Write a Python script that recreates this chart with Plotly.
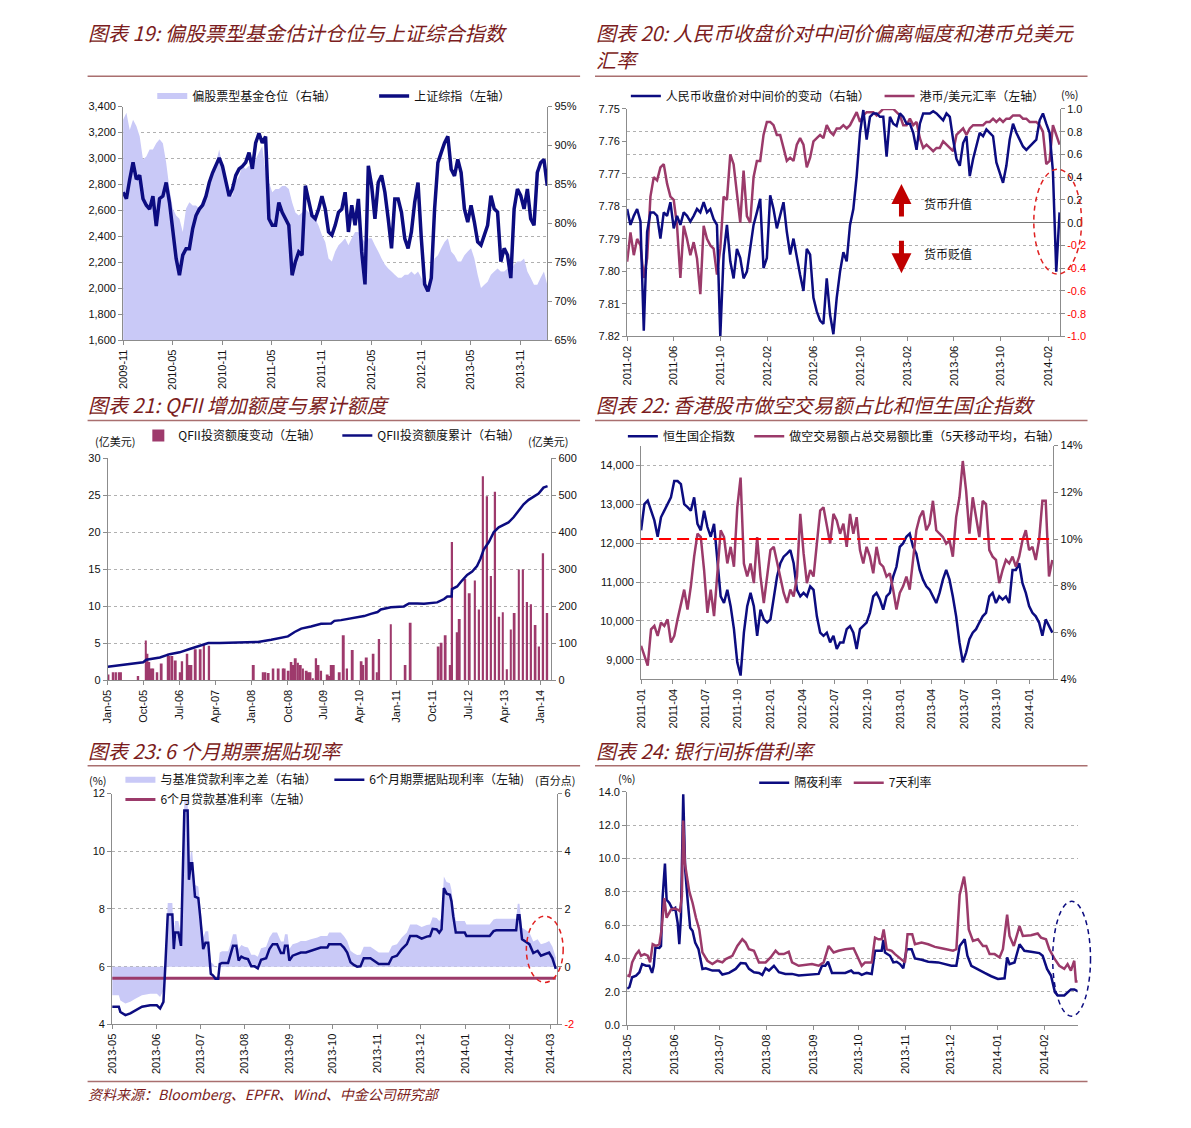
import pandas as pd
import plotly.graph_objects as go

W, H = 1191, 1128


def px(x):
    return x / W


def py(y):
    return 1 - y / H


NAVY = "#0C0C80"
PLUM = "#9B3A6A"
LAV = "#C9C9F7"
TITLE_C = "#7B1C20"
RULE_C = "#A96F6F"
GRID_C = "#B0B0B0"
AX_C = "#8C8C8C"
FONT = "Liberation Sans, Arial, sans-serif"
CJK = "Noto Sans CJK SC, sans-serif"

# ---------------- Panel 19 data ----------------
P19_START, P19_END = "2009-11-01", "2014-02-07"
P19_SSE = [2740, 2690, 2840, 2970, 2840, 2870, 2690, 2640, 2610, 2710,
           2480, 2690, 2710, 2815, 2660, 2430, 2230, 2100, 2255, 2305,
           2305, 2460, 2560, 2610, 2640, 2710, 2815, 2890, 2955, 3005,
           2940, 2815, 2710, 2765, 2870, 2920, 2940, 2970, 3045, 2920,
           3120, 3195, 3120, 3170, 2535, 2485, 2485, 2660, 2585, 2535,
           2485, 2100, 2205, 2280, 2255, 2790, 2660, 2560, 2535, 2610,
           2710, 2610, 2434, 2410, 2485, 2585, 2610, 2740, 2434, 2640,
           2485, 2688, 2280, 2030, 2943, 2790, 2535, 2815, 2870, 2740,
           2535, 2307, 2688, 2688, 2585, 2383, 2307, 2434, 2663, 2815,
           2383, 2030, 1977, 2078, 2612, 2968, 3045, 3120, 3171, 2917,
           2866, 2993, 2892, 2612, 2510, 2638, 2510, 2358, 2333, 2409,
           2485, 2714, 2612, 2587, 2205, 2307, 2256, 2078, 2612, 2765,
           2714, 2612, 2765, 2536, 2485, 2892, 2968, 2993, 2790]
P19_FUND = [93.3, 94.2, 92.0, 93.3, 92.5, 91.2, 88.2, 88.6, 89.5, 89.5,
            90.3, 90.8, 90.3, 87.8, 84.4, 81.9, 81.0, 80.6, 78.9, 81.9,
            82.7, 82.3, 82.3, 81.9, 83.1, 83.6, 85.3, 87.0, 87.8, 89.5,
            87.4, 85.7, 83.6, 83.6, 85.3, 86.1, 87.4, 87.0, 87.4, 87.4,
            88.2, 89.1, 89.9, 86.5, 85.3, 84.0, 84.4, 84.4, 84.8, 84.8,
            84.4, 82.7, 81.4, 81.0, 81.4, 81.9, 81.4, 81.0, 80.6, 79.7,
            78.5, 77.6, 75.5, 75.1, 76.4, 77.2, 77.6, 78.1, 77.2, 78.1,
            78.9, 78.9, 78.1, 77.6, 78.1, 78.1, 77.2, 76.4, 75.5, 74.7,
            74.2, 73.8, 73.4, 73.0, 73.0, 73.4, 73.4, 73.8, 73.4, 73.8,
            73.0, 72.1, 71.3, 73.0, 75.5, 75.9, 76.8, 77.6, 78.1, 76.4,
            75.9, 75.1, 75.1, 75.9, 76.4, 76.8, 75.5, 73.4, 71.7, 72.1,
            72.5, 73.4, 73.8, 74.2, 73.8, 73.8, 74.2, 73.8, 74.7, 75.1,
            75.1, 75.5, 73.8, 73.0, 72.1, 72.1, 73.0, 73.8, 72.1]

# ---------------- Panel 20 data ----------------
P20_START, P20_END = "2011-02-01", "2014-03-03"
P20_RMB = [0.12, -0.02, 0.06, 0.12, 0.01, -0.95, -0.08, 0.09, 0.09, 0.06,
           -0.14, 0.09, 0.06, 0.18, -0.05, 0.06, -0.02, 0.09, 0.06, 0.01,
           0.06, 0.12, 0.09, 0.18, 0.09, 0.12, 0.03, -0.02, -1.0, -0.28,
           -0.02, -0.34, -0.49, -0.23, -0.31, -0.49, -0.43, -0.23, -0.02, 0.09,
           0.21, -0.40, -0.31, 0.24, 0.12, -0.05, 0.06, 0.18, -0.08, -0.28,
           -0.14, -0.31, -0.46, -0.60, -0.23, -0.28, -0.66, -0.78, -0.86, -0.89,
           -0.49, -0.81, -0.98, -0.66, -0.43, -0.26, -0.34, -0.02, 0.12, 0.41,
           0.79, 0.99, 0.73, 0.93, 0.96, 0.96, 0.93, 0.93, 0.58, 0.93,
           0.87, 0.85, 0.96, 0.93, 0.87, 0.87, 0.79, 0.64, 0.87, 0.96,
           0.96, 0.96, 0.98, 0.96, 0.93, 0.90, 0.96, 0.93, 0.73, 0.56,
           0.50, 0.70, 0.76, 0.41, 0.56, 0.67, 0.79, 0.76, 0.82, 0.79,
           0.76, 0.53, 0.44, 0.35, 0.50, 0.73, 0.87, 0.79, 0.73, 0.67,
           0.64, 0.67, 0.70, 0.73, 0.90, 0.96, 0.87, 0.79, 0.45, -0.43, 0.09]
P20_HKD = [7.797, 7.788, 7.795, 7.790, 7.792, 7.802, 7.796, 7.777, 7.771, 7.772,
           7.768, 7.767, 7.773, 7.777, 7.778, 7.786, 7.802, 7.786, 7.790, 7.795,
           7.791, 7.796, 7.807, 7.786, 7.790, 7.792, 7.793, 7.801, 7.793, 7.777,
           7.778, 7.764, 7.767, 7.776, 7.785, 7.769, 7.783, 7.785, 7.771, 7.766,
           7.766, 7.758, 7.754, 7.754, 7.755, 7.758, 7.758, 7.762, 7.766, 7.765,
           7.766, 7.761, 7.759, 7.761, 7.768, 7.765, 7.760, 7.759, 7.758, 7.759,
           7.755, 7.757, 7.758, 7.756, 7.756, 7.755, 7.756, 7.755, 7.753, 7.751,
           7.754, 7.752, 7.751, 7.751, 7.751, 7.752, 7.751, 7.750, 7.750, 7.750,
           7.750, 7.751, 7.752, 7.755, 7.755, 7.753, 7.755, 7.754, 7.759, 7.762,
           7.761, 7.762, 7.763, 7.762, 7.762, 7.760, 7.761, 7.762, 7.763, 7.758,
           7.757, 7.756, 7.758, 7.756, 7.755, 7.755, 7.755, 7.755, 7.754, 7.754,
           7.753, 7.754, 7.753, 7.754, 7.753, 7.753, 7.752, 7.752, 7.752, 7.753,
           7.753, 7.754, 7.754, 7.754, 7.755, 7.757, 7.767, 7.766, 7.755, 7.758, 7.761]
P20_RIGHT_TICKS = [1.0, 0.8, 0.6, 0.4, 0.2, 0.0, -0.2, -0.4, -0.6, -0.8, -1.0]

# ---------------- Panel 21 data ----------------
P21_BAR_DATES = ["2005-01-06", "2005-02-13", "2005-03-04", "2005-03-29", "2005-04-11",
                 "2005-08-20", "2005-10-17", "2005-10-29", "2005-11-12", "2005-11-29",
                 "2005-12-12", "2006-01-12", "2006-02-14", "2006-04-03", "2006-04-16",
                 "2006-05-06", "2006-06-01", "2006-07-05", "2006-07-20", "2006-08-28",
                 "2006-09-10", "2006-09-28", "2006-10-31", "2006-12-07", "2007-01-02",
                 "2007-02-10", "2008-01-15", "2008-03-25", "2008-04-12", "2008-05-07",
                 "2008-06-12", "2008-07-22", "2008-08-24", "2008-09-06", "2008-10-06",
                 "2008-10-27", "2008-11-13", "2008-11-29", "2008-12-16", "2009-01-06",
                 "2009-01-23", "2009-02-20", "2009-03-06", "2009-03-21", "2009-04-08",
                 "2009-05-03", "2009-05-21", "2009-06-10", "2009-07-30", "2009-08-12",
                 "2009-08-30", "2009-09-14", "2009-10-29", "2009-11-29", "2009-12-24",
                 "2010-02-05", "2010-04-13", "2010-04-26", "2010-05-23", "2010-07-13",
                 "2010-08-08", "2010-08-25", "2010-11-22", "2011-03-13", "2011-04-21",
                 "2011-11-20", "2011-12-12", "2012-01-12", "2012-02-19", "2012-03-01",
                 "2012-04-09", "2012-04-28", "2012-06-09", "2012-07-13", "2012-08-22",
                 "2012-09-22", "2012-10-22", "2012-11-22", "2012-12-22", "2013-01-22",
                 "2013-02-22", "2013-03-22", "2013-04-22", "2013-05-22", "2013-06-19",
                 "2013-07-22", "2013-08-22", "2013-09-22", "2013-10-22", "2013-11-25",
                 "2013-12-22", "2014-01-22", "2014-02-22"]
P21_BAR_VALS = [0.8, 1.1, 1.1, 1.1, 1.1,
                0.6, 5.4, 3.6, 2.5, 1.6,
                1.6, 1.1, 2.3, 3.6, 3.3,
                3.3, 2.7, 1.1, 2.6, 3.6,
                2.1, 2.1, 4.2, 4.2, 4.9,
                4.7, 2.1, 1.1, 1.1, 1.0,
                1.6, 1.6, 1.6, 1.6, 1.3,
                2.5, 2.1, 3.0, 2.4, 2.1,
                1.6, 1.3, 1.1, 1.1, 0.3,
                3.0, 2.1, 1.3, 0.8, 0.6,
                2.1, 2.1, 1.1, 6.1, 1.6,
                4.1, 2.6, 2.1, 3.1, 3.6,
                1.1, 5.6, 7.6, 2.1, 7.8,
                4.6, 5.1, 6.1, 2.1, 18.7,
                6.5, 8.3, 13.7, 11.8, 13.5,
                9.6, 27.6, 24.9, 14.1, 25.5,
                8.6, 9.2, 1.5, 6.9, 9.1,
                15.0, 15.0, 10.6, 10.3, 7.5,
                4.6, 17.2, 9.1]
P21_CUM_DATES = ["2005-01-01", "2005-03-08", "2005-09-27", "2005-10-21", "2005-11-16",
                 "2006-02-01", "2006-04-16", "2006-07-01", "2006-09-15", "2006-12-02",
                 "2007-02-04", "2007-05-01", "2007-11-09", "2008-02-16", "2008-05-27",
                 "2008-08-12", "2008-10-01", "2008-11-21", "2009-01-10", "2009-03-25",
                 "2009-06-10", "2009-08-25", "2009-09-19", "2009-11-09", "2009-12-29",
                 "2010-03-13", "2010-05-03", "2010-06-23", "2010-08-13", "2010-09-07",
                 "2010-11-22", "2011-03-01", "2011-04-09", "2011-06-11", "2011-08-01",
                 "2011-11-09", "2012-01-01", "2012-01-25", "2012-02-27", "2012-03-01",
                 "2012-04-09", "2012-05-16", "2012-06-24", "2012-08-01", "2012-09-07",
                 "2012-10-03", "2012-10-28", "2012-12-06", "2013-01-13", "2013-02-19",
                 "2013-03-28", "2013-05-04", "2013-06-12", "2013-07-19", "2013-08-27",
                 "2013-10-04", "2013-11-10", "2013-12-19", "2014-01-25", "2014-02-25"]
P21_CUM_VALS = [37, 40, 49, 56, 58,
                62, 71, 76, 85, 94,
                101, 101, 103, 104, 110,
                115, 119, 131, 140, 146,
                153, 154, 161, 163, 166,
                172, 174, 180, 185, 192,
                198, 200, 208, 208, 207,
                211, 220, 227, 227, 247,
                254, 270, 285, 294, 309,
                329, 354, 374, 401, 414,
                420, 427, 441, 459, 476,
                488, 497, 505, 521, 525]

# ---------------- Panel 22 data ----------------
P22_START, P22_END = "2011-01-01", "2014-03-07"
P22_HSCEI = [12325, 13000, 13090, 12830, 12580, 12160, 12660, 12830, 13000, 13170,
             13590, 13590, 13510, 13000, 12920, 12830, 13170, 12490, 12325, 12830,
             12410, 12160, 12490, 11650, 10630, 10460, 10800, 10380, 9790, 8940,
             8600, 9700, 10380, 10720, 10380, 9620, 10290, 10040, 9960, 10040,
             10630, 11140, 11480, 11650, 11730, 11820, 11480, 10800, 10630, 10720,
             10630, 10890, 10800, 10120, 9700, 9620, 9700, 9450, 9620, 9280,
             9450, 9450, 9790, 9870, 9700, 9280, 9790, 9870, 9960, 10210,
             10630, 10720, 10550, 10290, 10630, 10720, 11140, 11390, 11900, 11990,
             12160, 12240, 11900, 11730, 11310, 11060, 10890, 10800, 10630, 10460,
             10720, 11060, 11310, 11060, 10630, 10120, 9450, 8940, 9190, 9530,
             9700, 9790, 9960, 10120, 10210, 10630, 10720, 10460, 10630, 10550,
             10630, 10460, 11310, 11310, 11480, 10970, 10720, 10380, 10210, 10120,
             9960, 9620, 10040, 9870, 9700]
P22_SHORT = [5.44, 5.02, 4.59, 6.14, 6.29, 5.86, 6.43, 6.29, 6.57, 5.58,
             5.86, 6.57, 7.27, 7.84, 6.99, 7.98, 9.25, 10.23, 10.09, 8.68,
             6.85, 7.84, 6.71, 8.40, 10.38, 10.09, 8.96, 9.67, 8.82, 11.36,
             12.63, 8.96, 8.40, 8.96, 8.12, 10.09, 8.40, 7.27, 8.40, 9.53,
             9.67, 8.96, 8.40, 7.70, 7.27, 7.84, 7.55, 8.40, 11.08, 9.39,
             8.12, 8.68, 8.40, 9.95, 11.22, 11.36, 10.66, 9.81, 11.08, 10.80,
             10.23, 10.66, 9.67, 11.08, 10.23, 10.94, 9.53, 8.96, 9.67, 9.25,
             8.54, 9.67, 8.96, 8.82, 8.40, 8.54, 7.84, 6.99, 7.70, 7.98,
             8.40, 7.84, 9.11, 10.38, 10.94, 11.22, 10.38, 10.66, 11.64, 10.38,
             10.23, 10.09, 9.81, 9.95, 9.25, 10.94, 11.79, 13.34, 12.07, 10.23,
             11.79, 10.94, 10.09, 11.64, 11.50, 9.53, 9.25, 9.11, 8.12, 8.68,
             9.11, 8.96, 9.25, 8.82, 9.25, 9.95, 10.38, 9.53, 9.67, 9.11,
             9.95, 11.64, 11.64, 8.40, 9.11]
P22_REF_LEVEL = 10

# ---------------- Panel 23 data ----------------
P23_BASE = "2013-05-01"
P23_DAYS = [0, 4.6, 5.7, 9.2, 12.6, 16.1, 20.7, 26.4, 31.0, 33.3,
            35.6, 36.8, 38.6, 41.8, 42.8, 43.7, 46.0, 47.8, 49.0, 50.1,
            52.4, 53.3, 54.7, 55.6, 57.5, 59.8, 61.1, 63.2, 64.8, 66.7,
            68.5, 70.1, 71.7, 73.6, 74.7, 76.3, 80.5, 82.1, 83.9, 86.2,
            87.8, 89.7, 92.0, 94.3, 96.6, 98.9, 101.1, 103.4, 106.9, 109.2,
            111.5, 114.5, 117.2, 119.1, 120.0, 121.8, 123.0, 125.3, 128.7, 131.0,
            134.5, 137.9, 142.5, 144.8, 149.4, 150.6, 158.6, 160.9, 163.2, 165.5,
            167.8, 170.1, 172.4, 174.7, 179.3, 181.6, 185.1, 192.0, 194.3, 197.7,
            201.1, 204.6, 206.9, 211.5, 214.9, 218.4, 220.7, 222.5, 225.3, 227.1,
            228.7, 230.3, 232.2, 234.5, 235.6, 236.8, 238.6, 244.8, 246.0, 262.1,
            264.8, 266.7, 280.5, 281.6, 282.8, 284.6, 287.4, 289.7, 292.4, 295.4,
            297.7, 301.1, 303.4, 305.7, 308.0]
P23_RATE = [4.61, 4.61, 4.43, 4.32, 4.38, 4.49, 4.61, 4.66, 4.66, 4.55,
            4.78, 5.92, 7.81, 7.81, 6.61, 7.18, 7.18, 6.72, 8.89, 11.41,
            11.41, 9.01, 9.58, 9.58, 8.43, 8.38, 7.75, 6.61, 6.83, 6.83,
            5.75, 5.69, 5.58, 5.58, 6.09, 6.13, 6.13, 6.38, 6.72, 6.72,
            6.21, 6.35, 6.29, 6.26, 6.01, 6.01, 5.94, 6.24, 6.29, 6.61,
            6.78, 6.78, 6.47, 6.47, 6.72, 6.72, 6.21, 6.38, 6.43, 6.49,
            6.49, 6.55, 6.61, 6.66, 6.66, 6.78, 6.78, 6.66, 6.49, 6.15,
            6.06, 6.00, 6.01, 6.29, 6.29, 6.21, 6.09, 6.09, 6.32, 6.38,
            6.61, 6.78, 7.06, 7.06, 6.97, 7.04, 7.06, 7.31, 7.29, 7.18,
            7.29, 8.72, 8.53, 8.49, 8.26, 7.75, 7.18, 7.18, 7.06, 7.06,
            7.23, 7.26, 7.26, 7.78, 7.78, 6.95, 6.86, 6.78, 6.47, 6.55,
            6.38, 6.43, 6.49, 6.29, 5.92]
P23_BENCH = 5.6

# ---------------- Panel 24 data ----------------
P24_BASE = "2013-05-01"
P24_ON_DAYS = [0, 1.5, 3.3, 5.9, 8.1, 9.9, 12.5, 14.7, 16.5, 17.6,
               18.7, 21.3, 22.4, 23.5, 25.0, 26.1, 27.9, 30.1, 31.8, 33.4,
               34.5, 35.6, 37.1, 38.4, 40.0, 41.7, 43.3, 45.0, 47.2, 49.8,
               52.0, 56.4, 60.8, 63.0, 67.4, 71.8, 75.1, 78.4, 80.6, 83.9,
               87.2, 89.4, 91.6, 93.8, 97.1, 100.4, 104.7, 109.1, 113.5, 117.9,
               122.3, 126.7, 128.9, 131.1, 132.9, 135.5, 139.9, 144.3, 148.2, 149.8,
               153.1, 155.2, 158.5, 161.8, 164.0, 168.4, 169.5, 170.6, 173.9, 176.1,
               178.3, 180.5, 182.7, 184.9, 188.2, 190.4, 194.8, 199.2, 205.8, 210.1,
               214.5, 217.8, 220.0, 223.3, 225.1, 227.7, 232.1, 236.5, 240.9, 245.3,
               249.7, 251.4, 253.0, 256.3, 259.6, 262.8, 267.2, 272.7, 274.9, 277.8,
               280.4, 283.0, 284.8, 289.2, 293.6, 295.8, 298.4]
P24_ON = [2.18, 2.28, 2.87, 2.97, 3.17, 3.66, 3.56, 3.56, 3.13, 3.56,
          4.65, 4.63, 4.75, 7.72, 9.70, 7.52, 7.33, 6.93, 7.03, 6.14,
          4.85, 6.53, 13.86, 9.31, 7.52, 5.84, 5.64, 4.95, 4.55, 3.37,
          3.41, 3.27, 3.27, 3.03, 3.13, 3.37, 3.72, 3.70, 3.37, 3.17,
          3.13, 3.01, 3.41, 3.27, 3.56, 3.17, 3.07, 3.07, 2.97, 3.01,
          3.01, 3.07, 3.56, 3.56, 3.80, 3.13, 3.13, 3.13, 3.27, 3.13,
          3.13, 3.01, 3.13, 3.07, 4.46, 4.46, 5.11, 4.36, 4.16, 3.76,
          3.80, 3.66, 3.41, 4.55, 4.55, 4.00, 3.92, 3.80, 3.76, 3.66,
          3.56, 3.56, 4.75, 5.15, 4.16, 3.56, 3.33, 3.13, 2.93, 2.77,
          2.81, 4.06, 3.66, 3.76, 4.85, 4.46, 4.40, 4.32, 4.16, 3.37,
          2.97, 1.98, 1.78, 1.78, 2.14, 2.14, 2.02]
P24_7D_DAYS = [0, 1.5, 3.3, 5.9, 7.7, 9.2, 11.4, 13.6, 15.2, 16.9,
               19.1, 21.3, 22.8, 24.6, 26.1, 29.0, 31.2, 33.4, 34.9, 36.2,
               37.1, 38.2, 41.1, 43.3, 45.5, 47.7, 49.8, 53.1, 56.4, 59.7,
               63.0, 65.2, 69.6, 72.9, 76.2, 78.4, 80.6, 83.9, 87.2, 91.6,
               94.9, 98.2, 100.4, 103.6, 106.9, 109.1, 113.5, 117.9, 122.3, 126.7,
               130.0, 133.3, 136.6, 139.9, 144.3, 149.8, 152.0, 155.2, 157.4, 161.8,
               164.0, 166.2, 168.4, 169.7, 171.7, 175.0, 177.2, 180.5, 183.8, 185.5,
               188.6, 190.4, 194.8, 199.2, 203.6, 208.0, 212.3, 215.6, 217.8, 220.0,
               222.9, 224.4, 226.0, 228.8, 232.1, 235.4, 237.6, 239.8, 243.1, 246.4,
               248.6, 251.4, 253.0, 255.8, 259.6, 261.8, 267.2, 271.6, 273.8, 277.1,
               279.3, 282.6, 285.9, 289.2, 291.4, 293.6, 295.8, 296.9, 298.4]
P24_7D = [2.97, 2.93, 3.76, 4.26, 4.46, 4.16, 4.26, 4.16, 3.76, 4.85,
          4.75, 4.85, 5.74, 7.62, 6.44, 6.93, 6.99, 6.93, 6.83, 7.72,
          12.28, 9.70, 8.02, 7.33, 6.44, 5.74, 4.36, 3.86, 3.66, 3.86,
          3.76, 3.96, 4.16, 4.75, 5.15, 4.95, 4.55, 4.46, 3.76, 3.76,
          4.06, 4.46, 4.26, 4.26, 4.40, 3.76, 3.56, 3.60, 3.66, 3.56,
          3.76, 4.75, 4.36, 4.46, 4.55, 4.61, 4.16, 3.56, 3.76, 3.76,
          5.25, 5.15, 5.15, 5.74, 4.55, 4.46, 4.26, 4.00, 3.76, 5.45,
          5.45, 4.85, 4.95, 4.85, 4.69, 4.61, 4.55, 4.46, 4.55, 7.82,
          8.91, 7.92, 5.74, 5.05, 5.15, 4.75, 4.75, 4.26, 4.26, 4.06,
          4.55, 6.63, 5.35, 4.75, 5.94, 5.35, 5.39, 5.50, 5.25, 5.15,
          4.55, 4.00, 3.56, 3.37, 3.66, 3.27, 3.86, 2.61, 2.61]


def days_to_dates(base, days):
    return pd.Timestamp(base) + pd.to_timedelta(days, unit="D")


def red_neg(v, fmt):
    s = fmt.format(v)
    return f'<span style="color:#FF0000">{s}</span>' if v < 0 else s


TICKFONT = dict(family=FONT, size=11, color="#111111")


def xdate(dom, anchor, rng, dtick, tick0, fmt):
    return dict(domain=dom, anchor=anchor, type="date", range=rng, dtick=dtick,
                tick0=tick0, tickformat=fmt, tickangle=-90, showline=True,
                linecolor=AX_C, linewidth=1, ticks="outside", ticklen=4,
                tickcolor=AX_C, showgrid=False, zeroline=False, tickfont=TICKFONT,
                fixedrange=True)


def yax(dom=None, anchor=None, side="left", rng=None, grid=False, overlaying=None, **kw):
    d = dict(side=side, range=rng, showline=True, linecolor=AX_C, linewidth=1,
             ticks="outside", ticklen=4, tickcolor=AX_C, showgrid=grid,
             gridcolor=GRID_C, griddash="dot", gridwidth=1, zeroline=False,
             tickfont=TICKFONT, fixedrange=True)
    if dom is not None:
        d["domain"] = dom
    if anchor is not None:
        d["anchor"] = anchor
    if overlaying is not None:
        d["overlaying"] = overlaying
    d.update(kw)
    return d


def leg(text_x, cy):
    return dict(x=px(text_x - 40), y=py(cy), xanchor="left", yanchor="middle",
                orientation="h", bgcolor="rgba(0,0,0,0)", borderwidth=0,
                font=dict(family=CJK, size=12, color="#111111"), itemwidth=30)


fig = go.Figure()

# ---- Panel 19 ----
d19 = pd.date_range(P19_START, P19_END, periods=len(P19_SSE))
d19f = pd.date_range(P19_START, P19_END, periods=len(P19_FUND))
fig.add_trace(go.Scatter(x=d19f, y=P19_FUND, xaxis="x", yaxis="y", mode="none",
                         fill="tozeroy", fillcolor=LAV, name="偏股票型基金仓位（右轴）",
                         legend="legend"))
fig.add_trace(go.Scatter(x=d19, y=P19_SSE, xaxis="x", yaxis="y2", mode="lines",
                         line=dict(color=NAVY, width=3.5), name="上证综指（左轴）",
                         legend="legend2"))

# ---- Panel 20 ----
d20 = pd.date_range(P20_START, P20_END, periods=len(P20_RMB))
d20h = pd.date_range(P20_START, P20_END, periods=len(P20_HKD))
fig.add_trace(go.Scatter(x=d20, y=P20_RMB, xaxis="x2", yaxis="y4", mode="lines",
                         line=dict(color=NAVY, width=2.5), name="人民币收盘价对中间价的变动（右轴）",
                         legend="legend3"))
fig.add_trace(go.Scatter(x=d20h, y=P20_HKD, xaxis="x2", yaxis="y3", mode="lines",
                         line=dict(color=PLUM, width=2.5), name="港币/美元汇率（左轴）",
                         legend="legend4"))

# ---- Panel 21 ----
fig.add_trace(go.Bar(x=pd.to_datetime(P21_BAR_DATES), y=P21_BAR_VALS, xaxis="x3", yaxis="y5",
                     marker=dict(color="#9E3A6C", line=dict(width=0)),
                     width=15 * 86400000, name="QFII投资额度变动（左轴）", legend="legend5"))
fig.add_trace(go.Scatter(x=pd.to_datetime(P21_CUM_DATES), y=P21_CUM_VALS, xaxis="x3", yaxis="y6",
                         mode="lines", line=dict(color=NAVY, width=2.5),
                         name="QFII投资额度累计（右轴）", legend="legend6"))

# ---- Panel 22 ----
d22 = pd.date_range(P22_START, P22_END, periods=len(P22_HSCEI))
d22s = pd.date_range(P22_START, P22_END, periods=len(P22_SHORT))
fig.add_trace(go.Scatter(x=d22, y=P22_HSCEI, xaxis="x4", yaxis="y7", mode="lines",
                         line=dict(color=NAVY, width=2.5), name="恒生国企指数", legend="legend7"))
fig.add_trace(go.Scatter(x=d22s, y=P22_SHORT, xaxis="x4", yaxis="y8", mode="lines",
                         line=dict(color=PLUM, width=2.5),
                         name="做空交易额占总交易额比重（5天移动平均，右轴）", legend="legend8"))

# ---- Panel 23 ----
d23 = days_to_dates(P23_BASE, P23_DAYS)
diff23 = [r - P23_BENCH for r in P23_RATE]
fig.add_trace(go.Scatter(x=d23, y=diff23, xaxis="x5", yaxis="y9", mode="none",
                         fill="tozeroy", fillcolor=LAV, name="与基准贷款利率之差（右轴）",
                         legend="legend9"))
fig.add_trace(go.Scatter(x=d23, y=[P23_BENCH] * len(P23_DAYS), xaxis="x5", yaxis="y10",
                         mode="lines", line=dict(color=PLUM, width=3),
                         name="6个月贷款基准利率（左轴）", legend="legend11"))
fig.add_trace(go.Scatter(x=d23, y=P23_RATE, xaxis="x5", yaxis="y10", mode="lines",
                         line=dict(color=NAVY, width=2.5),
                         name="6个月期票据贴现利率（左轴)", legend="legend10"))

# ---- Panel 24 ----
fig.add_trace(go.Scatter(x=days_to_dates(P24_BASE, P24_ON_DAYS), y=P24_ON, xaxis="x6", yaxis="y11",
                         mode="lines", line=dict(color=NAVY, width=2.5), name="隔夜利率",
                         legend="legend12"))
fig.add_trace(go.Scatter(x=days_to_dates(P24_BASE, P24_7D_DAYS), y=P24_7D, xaxis="x6", yaxis="y11",
                         mode="lines", line=dict(color=PLUM, width=2.5), name="7天利率",
                         legend="legend13"))

layout = dict(
    width=W, height=H, margin=dict(l=0, r=0, t=0, b=0),
    paper_bgcolor="white", plot_bgcolor="white", showlegend=True,
    font=dict(family=FONT, size=11, color="#111111"),
    # panel 19
    xaxis=xdate([px(117.7), px(544)], "y", [P19_START, P19_END], "M6", "2009-11-01", "%Y-%m"),
    yaxis=yax([py(337.7), py(101.7)], "x", "right", [65, 95], dtick=5, ticksuffix="%"),
    yaxis2=yax(None, "x", "left", [1600, 3400], True, "y", dtick=200, tickformat=","),
    # panel 20
    xaxis2=xdate([px(624.3), px(1059.3)], "y3", [P20_START, "2014-03-04"], "M4", "2011-02-01", "%Y-%m"),
    yaxis3=yax([py(334), py(104)], "x2", "left", [7.82, 7.75], dtick=0.01, tickformat=".2f"),
    yaxis4=yax(None, "x2", "right", [-1, 1], True, "y3",
               tickvals=P20_RIGHT_TICKS, ticktext=[red_neg(v, "{:.1f}") for v in P20_RIGHT_TICKS],
               zeroline=True, zerolinecolor="#7A7A7A", zerolinewidth=1),
    # panel 21
    xaxis3=xdate([px(102.3), px(548)], "y5", ["2005-01-01", "2014-03-25"], "M9", "2005-01-01", "%b-%y"),
    yaxis5=yax([py(681.7), py(457.3)], "x3", "left", [0, 30], True, dtick=5),
    yaxis6=yax(None, "x3", "right", [0, 600], False, "y5", dtick=100),
    # panel 22
    xaxis4=xdate([px(638.3), px(1052.7)], "y7", [P22_START, "2014-03-10"], "M3", "2011-01-01", "%Y-%m"),
    yaxis7=yax([py(680.7), py(444.3)], "x4", "left", [8500, 14500], True, dtick=1000, tickformat=","),
    yaxis8=yax(None, "x4", "right", [4, 14], False, "y7", dtick=2, ticksuffix="%"),
    # panel 23
    xaxis5=xdate([px(106.7), px(554)], "y9", ["2013-05-01", "2014-03-06"], "M1", "2013-05-01", "%Y-%m"),
    yaxis9=yax([py(1029.3), py(796)], "x5", "right", [-2, 6],
               tickvals=[6, 4, 2, 0, -2], ticktext=[red_neg(v, "{:d}") for v in [6, 4, 2, 0, -2]]),
    yaxis10=yax(None, "x5", "left", [4, 12], True, "y9", dtick=2),
    # panel 24
    xaxis6=xdate([px(624.3), px(1077)], "y11", ["2013-05-01", "2014-02-23"], "M1", "2013-05-01", "%Y-%m"),
    yaxis11=yax([py(1030), py(794.3)], "x6", "left", [0, 14], True, dtick=2, tickformat=".1f"),
    # legends
    legend=leg(187, 91), legend2=leg(410, 91),
    legend3=leg(663, 91), legend4=leg(918, 91),
    legend5=leg(173, 434), legend6=leg(373, 434),
    legend7=leg(660, 435), legend8=leg(787, 435),
    legend9=leg(155, 782), legend10=leg(365, 782), legend11=leg(155, 802),
    legend12=leg(792, 785), legend13=leg(887, 785),
)
fig.update_layout(**layout)

# ---- titles, rules and notes ----
TFONT = dict(family=CJK, size=20, color=TITLE_C, style="italic")
titles = [
    (80, 27, "图表 19: 偏股票型基金估计仓位与上证综合指数"),
    (591, 27, "图表 20: 人民币收盘价对中间价偏离幅度和港币兑美元"),
    (591, 54, "汇率"),
    (80, 403, "图表 21: QFII 增加额度与累计额度"),
    (591, 403, "图表 22: 香港股市做空交易额占比和恒生国企指数"),
    (80, 752, "图表 23: 6 个月期票据贴现率"),
    (591, 752, "图表 24: 银行间拆借利率"),
]
for x, y, t in titles:
    fig.add_annotation(x=px(x), y=py(y), xref="paper", yref="paper", text=t, showarrow=False,
                       xanchor="left", yanchor="middle", align="left", font=TFONT)
fig.add_annotation(x=px(80), y=py(1100), xref="paper", yref="paper",
                   text="资料来源：Bloomberg、EPFR、Wind、中金公司研究部", showarrow=False,
                   xanchor="left", yanchor="middle",
                   font=dict(family=CJK, size=14, color=TITLE_C, style="italic"))

for y, segs in [(71, [(82, 577), (592, 1087)]), (419, [(82, 577), (592, 1087)]),
                (768, [(82, 577), (592, 1087)]), (1087, [(82, 1087)])]:
    for x0, x1 in segs:
        fig.add_shape(type="line", xref="paper", yref="paper", x0=px(x0), x1=px(x1),
                      y0=py(y), y1=py(y), line=dict(color=RULE_C, width=1.5))

NOTE = dict(family=CJK, size=11, color="#111111")
for x, y, t in [(1069, 89, "(%)"), (110, 440, "(亿美元)"), (545, 440, "(亿美元)"),
                (92, 782, "(%)"), (552, 782, "(百分点)"), (624, 780, "(%)")]:
    fig.add_annotation(x=px(x), y=py(y), xref="paper", yref="paper", text=t, showarrow=False,
                       xanchor="center", yanchor="middle", font=NOTE)

# panel 20 arrows and notes
fig.add_annotation(x=px(900), y=py(180), xref="paper", yref="paper", text="", showarrow=True,
                   ax=0, ay=34, arrowhead=2, arrowsize=0.8, arrowwidth=5, arrowcolor="#C00000")
fig.add_annotation(x=px(900), y=py(270), xref="paper", yref="paper", text="", showarrow=True,
                   ax=0, ay=-34, arrowhead=2, arrowsize=0.8, arrowwidth=5, arrowcolor="#C00000")
for y, t in [(200, "货币升值"), (250, "货币贬值")]:
    fig.add_annotation(x=px(921), y=py(y), xref="paper", yref="paper", text=t, showarrow=False,
                       xanchor="left", yanchor="middle", font=dict(family=CJK, size=12, color="#111111"))

# reference line at 10% (panel 22)
fig.add_shape(type="line", xref="x4 domain", yref="y8", x0=0, x1=1, y0=P22_REF_LEVEL,
              y1=P22_REF_LEVEL, line=dict(color="#FF0000", width=2, dash="12px,6px"), layer="above")

# dashed ellipses
for (x0, x1, y0, y1, c) in [(1033, 1081, 271, 165, "#E02020"), (523, 560, 987, 920, "#E02020"),
                            (1052, 1090, 1021, 905, NAVY)]:
    fig.add_shape(type="circle", xref="paper", yref="paper", x0=px(x0), x1=px(x1),
                  y0=py(y0), y1=py(y1), line=dict(color=c, width=1.5, dash="5px,4px"))

fig.write_html(
    "out.html",
    config={"displayModeBar": False, "staticPlot": False},
    post_script="document.body.style.margin='0';document.body.style.padding='0';"
                "document.documentElement.style.overflow='hidden';",
)
